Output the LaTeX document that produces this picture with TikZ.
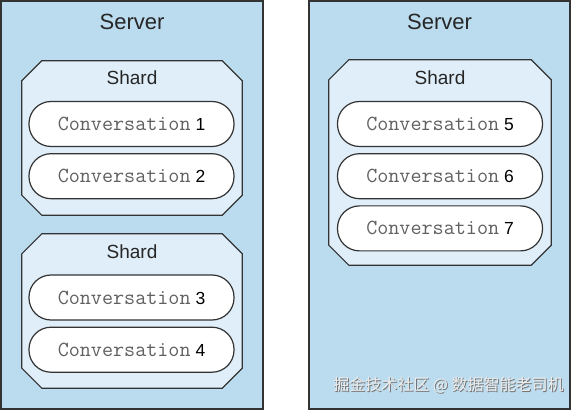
\documentclass[tikz,border=0pt]{standalone}
\usepackage{fontspec}
\setmainfont{Liberation Sans}
\newfontfamily\cjk{Noto Sans CJK SC}
\usetikzlibrary{positioning}
\definecolor{serverblue}{HTML}{BBDCEF}
\definecolor{shardblue}{HTML}{DFEEF8}
\definecolor{edgegray}{HTML}{333333}
\definecolor{monogray}{HTML}{606060}
\newcommand{\conv}[1]{{\ttfamily\fontsize{21.5}{24}\selectfont\color{monogray}Conversation} #1}
\newcommand{\drawshard}[1]{%
  \filldraw[shardline] ([xshift=20pt]#1.north west) -- ([xshift=-20pt]#1.north east)
    -- ([yshift=-20pt]#1.north east) -- ([yshift=20pt]#1.south east)
    -- ([xshift=-20pt]#1.south east) -- ([xshift=20pt]#1.south west)
    -- ([yshift=20pt]#1.south west) -- ([yshift=-20pt]#1.north west) -- cycle;}
\tikzset{
  server/.style={draw=edgegray, line width=1.2pt, fill=serverblue, inner sep=0pt,
    minimum height=408pt},
  shard/.style={inner sep=0pt},
  shardline/.style={draw=edgegray, line width=1.2pt, fill=shardblue},
  conv/.style={draw=edgegray, line width=1.2pt, fill=white, rounded corners=22pt,
    minimum width=205pt, minimum height=45pt, inner sep=0pt,
    font=\fontsize{17.5}{20}\selectfont},
  title/.style={font=\fontsize{22}{26}\selectfont, text=black!85},
  label/.style={font=\fontsize{19}{22}\selectfont, text=black!85}
}
\begin{document}
\begin{tikzpicture}[x=1pt, y=-1pt]
    \useasboundingbox (0,0) rectangle (572,411);
    % servers
    \node (srvl) [server, minimum width=262pt] at (132,205) {};
    \node (srvr) [server, minimum width=261pt] at (439.5,205) {};
    \node (srvlt) [title] at (132,22) {Server};
    \node (srvrt) [title] at (439.5,22) {Server};
    % shards
    \node (shda) [shard, minimum width=220pt, minimum height=154pt] at (132,138) {};
    \node (shdb) [shard, minimum width=220pt, minimum height=154pt] at (132,311) {};
    \node (shdc) [shard, minimum width=222pt, minimum height=205pt] at (440,162.5) {};
    \drawshard{shda}
    \drawshard{shdb}
    \drawshard{shdc}
    \node (shdat) [label] at (132,78) {Shard};
    \node (shdbt) [label] at (132,252) {Shard};
    \node (shdct) [label] at (440,78) {Shard};
    % conversations
    \node (c1) [conv] at (131.5,124) {\conv{1}};
    \node (c2) [conv, below=6pt of c1] {\conv{2}};
    \node (c3) [conv] at (131.5,297.5) {\conv{3}};
    \node (c4) [conv, below=6pt of c3] {\conv{4}};
    \node (c5) [conv] at (440,124) {\conv{5}};
    \node (c6) [conv, below=6pt of c5] {\conv{6}};
    \node (c7) [conv, below=6pt of c6] {\conv{7}};
    % watermark
    \node (wms) [text=black!55, font=\cjk\fontsize{16}{18}\selectfont] at (449.5,386) {掘金技术社区 @ 数据智能老司机};
    \node (wm) [text=white!92!black, font=\cjk\fontsize{16}{18}\selectfont] at (448.5,385) {掘金技术社区 @ 数据智能老司机};
\end{tikzpicture}
\end{document}
